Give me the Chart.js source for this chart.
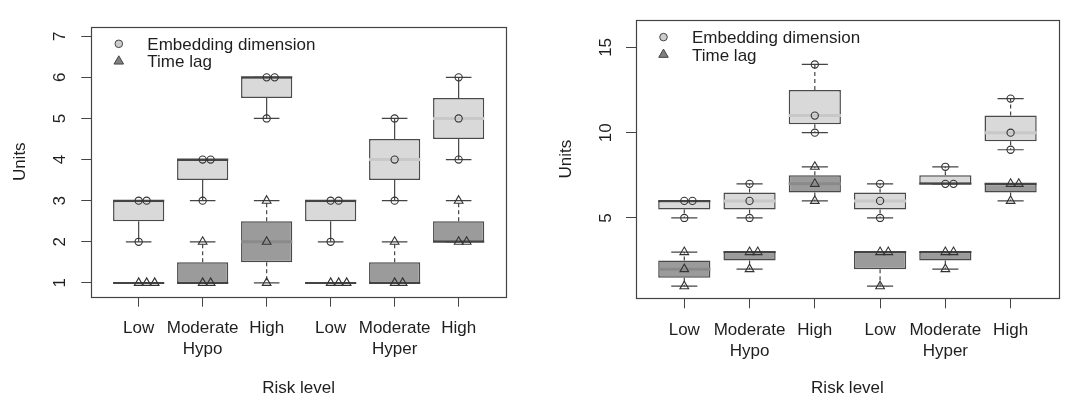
<!DOCTYPE html>
<html>
<head>
<meta charset="utf-8">
<script src="https://cdn.jsdelivr.net/npm/chart.js@4.4.1/dist/chart.umd.min.js"></script>
<style>
  html, body { margin: 0; padding: 0; background: #fff; }
  .panel { position: absolute; top: 0; height: 399px; }
  #leftWrap { left: 0; width: 533px; }
  #rightWrap { left: 533px; width: 532px; }
</style>
</head>
<body>
<div class="panel" id="leftWrap"><canvas id="leftChart"></canvas></div>
<div class="panel" id="rightWrap"><canvas id="rightChart"></canvas></div>
<script>
// categories on the x axis (second line = hypo / hyper group)
const tickLabels = ['Low', ['Moderate', 'Hypo'], 'High', 'Low', ['Moderate', 'Hyper'], 'High'];
const positions = [1, 2, 3, 4, 5, 6];
const seriesNames = ['Embedding dimension', 'Time lag'];

// observations per risk group, left panel
const leftEmbedding = [[2, 3, 3], [3, 4, 4], [5, 6, 6], [2, 3, 3], [3, 4, 5], [4, 5, 6]];
const leftTimeLag = [[1, 1, 1], [1, 1, 2], [1, 2, 3], [1, 1, 1], [1, 1, 2], [2, 2, 3]];
const leftYTicks = [1, 2, 3, 4, 5, 6, 7];

// observations per risk group, right panel
const rightEmbedding = [[5, 6, 6], [5, 6, 7], [10, 11, 14], [5, 6, 7], [7, 7, 8], [9, 10, 12]];
const rightTimeLag = [[1, 2, 3], [2, 3, 3], [6, 7, 8], [1, 3, 3], [2, 3, 3], [6, 7, 7]];
const rightYTicks = [5, 10, 15];

Chart.defaults.font.family = '"Liberation Sans", Arial, Helvetica, sans-serif';
Chart.defaults.color = '#1e1e1e';

// Tukey five number summary (what R's boxplot uses)
function fivenum(values) {
    const s = [...values].sort((a, b) => a - b);
    const n = s.length;
    const n4 = Math.floor((n + 3) / 2) / 2;
    const d = [1, n4, (n + 1) / 2, n + 1 - n4, n];
    return d.map(i => 0.5 * (s[Math.floor(i) - 1] + s[Math.ceil(i) - 1]));
}

function drawPanel(canvasId, embedding, timeLag, yTicks, cfg) {
    const series = [
        { name: seriesNames[0], obs: embedding, fill: '#d9d9d9', median: '#c8c8c8', pointStyle: 'circle', radius: 3.6, keyFill: '#cccccc', keyRadius: 3.8 },
        { name: seriesNames[1], obs: timeLag, fill: '#9b9b9b', median: '#8a8a8a', pointStyle: 'triangle', radius: 5, keyFill: '#808080', keyRadius: 5.5 }
    ];

    const datasets = [];
    series.forEach((s, k) => {
        const stats = s.obs.map(fivenum);
        const inner = [], edge = [], whiskers = [], caps = [], pts = [];
        stats.forEach((st, i) => {
            const p = positions[i];
            const med = [{ x: p - 0.4, y: st[2] }, { x: p + 0.4, y: st[2] }, { x: p, y: null }];
            if (st[2] === st[1] || st[2] === st[3]) edge.push(...med); else inner.push(...med);
            whiskers.push({ x: p, y: st[3] }, { x: p, y: st[4] }, { x: p, y: null },
                          { x: p, y: st[1] }, { x: p, y: st[0] }, { x: p, y: null });
            caps.push({ x: p - 0.2, y: st[4] }, { x: p + 0.2, y: st[4] }, { x: p, y: null },
                      { x: p - 0.2, y: st[0] }, { x: p + 0.2, y: st[0] }, { x: p, y: null });
            // stack repeated values sideways
            const seen = {};
            s.obs[i].forEach(v => {
                const n = seen[v] || 0;
                seen[v] = n + 1;
                pts.push({ x: p + n * 0.125, y: v });
            });
        });

        datasets.push({
            type: 'bar',
            label: s.name,
            data: stats.map((st, i) => ({ x: positions[i], y: [st[1], st[3]] })),
            backgroundColor: s.fill,
            borderColor: '#4a4a4a',
            borderWidth: 1.5,
            borderSkipped: false,
            grouped: false,
            barPercentage: 0.8,
            categoryPercentage: 1,
            order: 6
        });
        datasets.push({ type: 'line', data: inner, borderColor: s.median, borderWidth: 3, pointRadius: 0, spanGaps: false, order: 5 });
        datasets.push({ type: 'line', data: edge, borderColor: '#444', borderWidth: 2, pointRadius: 0, spanGaps: false, order: 5 });
        datasets.push({ type: 'line', data: whiskers, borderColor: '#444', borderWidth: 1.2, borderDash: cfg.whiskerDash[k], pointRadius: 0, spanGaps: false, order: 4 });
        datasets.push({ type: 'line', data: caps, borderColor: '#444', borderWidth: 1.2, pointRadius: 0, spanGaps: false, order: 3 });
        datasets.push({
            type: 'scatter',
            data: pts,
            pointStyle: s.pointStyle,
            pointRadius: s.radius,
            pointBorderColor: '#333',
            pointBorderWidth: 1.1,
            pointBackgroundColor: 'rgba(0,0,0,0)',
            order: 1
        });
    });

    const frameAndKey = {
        id: 'frameAndKey',
        afterDraw(chart) {
            const { ctx, chartArea: a } = chart;
            ctx.save();
            ctx.strokeStyle = '#444';
            ctx.lineWidth = 1.2;
            ctx.strokeRect(Math.round(a.left) + 0.5, Math.round(a.top) + 0.5,
                           Math.round(a.right - a.left), Math.round(a.bottom - a.top));
            series.forEach((s, k) => {
                const y = a.top + 17 + k * 17.5;
                ctx.fillStyle = s.keyFill;
                ctx.strokeStyle = '#444';
                ctx.lineWidth = 1;
                Chart.helpers.drawPoint(ctx, { pointStyle: s.pointStyle, radius: s.keyRadius, borderWidth: 1, rotation: 0 }, a.left + 27.5, y);
                ctx.fillStyle = '#1e1e1e';
                ctx.font = '17px "Liberation Sans", Arial, sans-serif';
                ctx.textAlign = 'left';
                ctx.textBaseline = 'alphabetic';
                ctx.fillText(s.name, a.left + 56, y + 6);
            });
            ctx.restore();
        }
    };

    new Chart(document.getElementById(canvasId).getContext('2d'), {
        type: 'bar',
        data: { datasets: datasets },
        options: {
            responsive: true,
            maintainAspectRatio: false,
            animation: false,
            events: [],
            layout: {
                padding: { top: cfg.padTop, right: cfg.padRight, left: 0, bottom: 0 }
            },
            plugins: {
                legend: { display: false },
                tooltip: { enabled: false }
            },
            scales: {
                x: {
                    type: 'linear',
                    min: 0.26,
                    max: 6.74,
                    offset: false,
                    afterBuildTicks: ax => { ax.ticks = positions.map(v => ({ value: v })); },
                    afterFit: ax => { ax.height = cfg.xHeight; },
                    grid: { drawOnChartArea: false, drawTicks: true, tickLength: 10, tickColor: '#444', offset: false },
                    border: { display: false },
                    ticks: {
                        autoSkip: false,
                        maxRotation: 0,
                        minRotation: 0,
                        padding: 11,
                        font: { size: 17, lineHeight: 1.24 },
                        callback: v => tickLabels[positions.indexOf(v)]
                    },
                    title: { display: true, text: 'Risk level', font: { size: 17 }, padding: { top: 0, bottom: 0 } }
                },
                y: {
                    type: 'linear',
                    min: cfg.yMin,
                    max: cfg.yMax,
                    beginAtZero: false,
                    afterBuildTicks: ax => { ax.ticks = yTicks.map(v => ({ value: v })); },
                    afterFit: ax => { ax.width = cfg.yWidth; },
                    grid: { drawOnChartArea: false, drawTicks: true, tickLength: 10, tickColor: '#444' },
                    border: { display: false },
                    ticks: {
                        autoSkip: false,
                        minRotation: 90,
                        maxRotation: 90,
                        crossAlign: 'center',
                        padding: cfg.yTickPad,
                        font: { size: 17 }
                    },
                    title: { display: true, text: 'Units', font: { size: 17 }, padding: { top: cfg.yTitlePad, bottom: 0 } }
                }
            }
        },
        plugins: [frameAndKey]
    });
}

drawPanel('leftChart', leftEmbedding, leftTimeLag, leftYTicks, {
    yMin: 0.664, yMax: 7.23, yWidth: 91.3, xHeight: 102.3, padTop: 10, padRight: 27,
    yTickPad: 16.6, yTitlePad: 10.6, whiskerDash: [[], [4, 3]]
});

drawPanel('rightChart', rightEmbedding, rightTimeLag, rightYTicks, {
    yMin: 0.29, yMax: 16.6, yWidth: 103, xHeight: 100.7, padTop: 16, padRight: 1.5,
    yTickPad: 9.9, yTitlePad: 22.7, whiskerDash: [[4, 3], [4, 3]]
});
</script>
</body>
</html>
